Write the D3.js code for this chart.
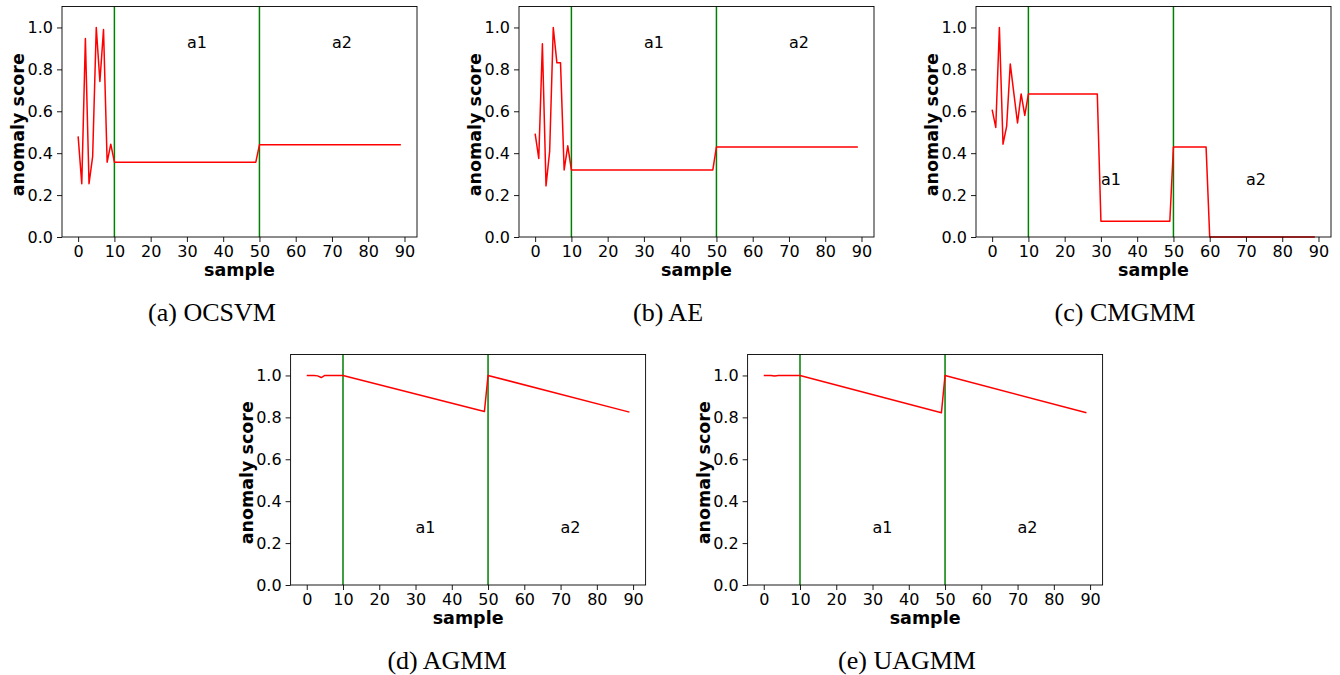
<!DOCTYPE html>
<html>
<head>
<meta charset="utf-8">
<script src="https://cdn.jsdelivr.net/npm/d3@7"></script>
<style>
  html, body { margin: 0; padding: 0; background: #fff; }
  svg { display: block; }
</style>
</head>
<body>
<div id="chart"></div>
<script>
// anomaly scores per method (vertices of each red line)
const ocsvmX = [0, 1, 2, 3, 4, 5, 6, 7, 8, 9, 10, 49, 50, 89];
const ocsvmY = [0.48, 0.254, 0.947, 0.254, 0.384, 1.0, 0.742, 0.99, 0.357, 0.443, 0.357, 0.357, 0.44, 0.44];

const aeX = [0, 1, 2, 3, 4, 5, 6, 7, 8, 9, 10, 49, 50, 89];
const aeY = [0.493, 0.375, 0.922, 0.244, 0.408, 1.0, 0.831, 0.831, 0.32, 0.435, 0.32, 0.32, 0.43, 0.43];

const cmgmmX = [0, 1, 2, 3, 4, 5, 6, 7, 8, 9, 10, 29, 30, 49, 50, 59, 60, 89];
const cmgmmY = [0.608, 0.523, 1.0, 0.443, 0.528, 0.826, 0.684, 0.544, 0.683, 0.58, 0.683, 0.683, 0.075, 0.075, 0.43, 0.43, 0.0, 0.0];

const agmmX = [0, 1, 2, 3, 4, 5, 10, 49, 50, 89];
const agmmY = [1.0, 1.0, 1.0, 0.998, 0.99, 1.0, 1.0, 0.828, 1.0, 0.825];

const uagmmX = [0, 2, 3, 4, 5, 10, 49, 50, 89];
const uagmmY = [1.0, 1.0, 0.997, 1.0, 1.0, 1.0, 0.822, 1.0, 0.822];

const changePoints = [10, 50];
const xTicks = [0, 10, 20, 30, 40, 50, 60, 70, 80, 90];
const yTicks = [0.0, 0.2, 0.4, 0.6, 0.8, 1.0];

const captions = ['(a) OCSVM', '(b) AE', '(c) CMGMM', '(d) AGMM', '(e) UAGMM'];
const labelTexts = ['a1', 'a2'];
const labelX = [30, 70];
const labelY = [0.9, 0.9, 0.25, 0.25, 0.25];

const W = 1340, H = 675;
const axW = 355, axH = 230.5;
const panels = [
  { left: 62, top: 6.5, capX: 212, xs: ocsvmX, ys: ocsvmY },
  { left: 519, top: 6.5, capX: 668, xs: aeX, ys: aeY },
  { left: 976, top: 6.5, capX: 1125, xs: cmgmmX, ys: cmgmmY },
  { left: 290.6, top: 354.5, capX: 447, xs: agmmX, ys: agmmY },
  { left: 747.6, top: 354.5, capX: 907, xs: uagmmX, ys: uagmmY }
];

const sans = '"DejaVu Sans", sans-serif';
const serif = '"Liberation Serif", "Times New Roman", serif';

const svg = d3.select('#chart').append('svg')
  .attr('width', W)
  .attr('height', H)
  .attr('viewBox', `0 0 ${W} ${H}`);

const x = d3.scaleLinear().domain([-4.45, 93.45]).range([0, axW]);
const y = d3.scaleLinear().domain([0, 1.1]).range([axH, 0]);

panels.forEach((p, i) => {
  const g = svg.append('g').attr('transform', `translate(${p.left},${p.top})`);

  // change points
  g.selectAll('line.cp')
    .data(changePoints)
    .join('line')
    .attr('class', 'cp')
    .attr('x1', d => x(d)).attr('x2', d => x(d))
    .attr('y1', 0).attr('y2', axH)
    .attr('stroke', '#008000')
    .attr('stroke-width', 1.5);

  const pts = p.xs.map((v, k) => [v, p.ys[k]]);
  g.append('path')
    .datum(pts)
    .attr('fill', 'none')
    .attr('stroke', '#ff0000')
    .attr('stroke-width', 1.5)
    .attr('stroke-linejoin', 'round')
    .attr('d', d3.line().x(d => x(d[0])).y(d => y(d[1])));

  // region labels
  g.selectAll('text.region')
    .data(labelTexts)
    .join('text')
    .attr('class', 'region')
    .attr('x', (d, k) => x(labelX[k]))
    .attr('y', y(labelY[i]))
    .attr('font-family', sans)
    .attr('font-size', 16)
    .attr('fill', '#000')
    .text(d => d);

  // axes
  const xAxis = g.append('g')
    .attr('transform', `translate(0,${axH})`)
    .call(d3.axisBottom(x).tickValues(xTicks).tickFormat(d3.format('d')).tickSize(5).tickPadding(4).tickSizeOuter(0));
  const yAxis = g.append('g')
    .call(d3.axisLeft(y).tickValues(yTicks).tickFormat(d3.format('.1f')).tickSize(5).tickPadding(4).tickSizeOuter(0));

  [xAxis, yAxis].forEach(a => {
    a.select('.domain').remove();
    a.selectAll('line').attr('stroke', '#000').attr('stroke-width', 0.9);
    a.selectAll('text')
      .attr('font-family', sans)
      .attr('font-size', 16)
      .attr('fill', '#000');
  });

  // frame
  g.append('rect')
    .attr('x', 0).attr('y', 0)
    .attr('width', axW).attr('height', axH)
    .attr('fill', 'none')
    .attr('stroke', '#000')
    .attr('stroke-width', 0.9);

  g.append('text')
    .attr('x', axW / 2)
    .attr('y', axH + 39)
    .attr('text-anchor', 'middle')
    .attr('font-family', sans)
    .attr('font-weight', 'bold')
    .attr('font-size', 17.5)
    .text('sample');

  g.append('text')
    .attr('transform', `translate(-38,${axH / 2 + 3}) rotate(-90)`)
    .attr('text-anchor', 'middle')
    .attr('font-family', sans)
    .attr('font-weight', 'bold')
    .attr('font-size', 17.5)
    .text('anomaly score');

  svg.append('text')
    .attr('x', p.capX)
    .attr('y', p.top + 314.5)
    .attr('text-anchor', 'middle')
    .attr('font-family', serif)
    .attr('font-size', 26)
    .attr('fill', '#000')
    .text(captions[i]);
});
</script>
</body>
</html>
